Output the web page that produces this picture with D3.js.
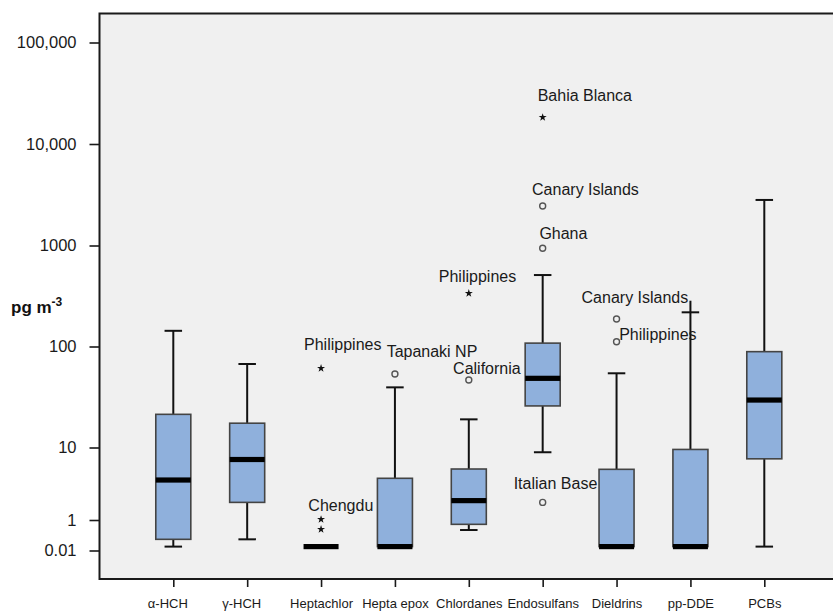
<!DOCTYPE html>
<html>
<head>
<meta charset="utf-8">
<script src="https://cdn.jsdelivr.net/npm/d3@7"></script>
<style>
  html, body { margin: 0; padding: 0; background: #ffffff; }
  svg { display: block; font-family: "Liberation Sans", Arial, Helvetica, sans-serif; }
</style>
</head>
<body>
<svg id="chart" width="833" height="611"></svg>
<script>
// ---- data (pg m-3) ----
const categories = ["α-HCH", "γ-HCH", "Heptachlor", "Hepta epox", "Chlordanes",
                    "Endosulfans", "Dieldrins", "pp-DDE", "PCBs"];
const whiskerLow  = [0.018, 0.054, 0.018, 0.018, 0.22, 8.6, 0.018, 0.018, 0.018];
const quartile1   = [0.054, 1.75, 0.018, 0.018, 0.52, 25.8, 0.018, 0.018, 6.98];
const medians     = [3.56, 6.83, 0.018, 0.018, 1.85, 48.4, 0.018, 0.018, 29.5];
const quartile3   = [21.3, 17.4, 0.018, 3.76, 5.05, 108, 5.0, 9.4, 88.9];
const whiskerHigh = [143, 67.1, 0.018, 39.4, 19.0, 510, 54.3, 218, 2810];
// the pp-DDE whisker line runs a little past its cap
const whiskerLineTop = [143, 67.1, 0.018, 39.4, 19.0, 510, 54.3, 284, 2810];

// flagged sites: "star" = extreme, "circle" = outlier
const outlierCategory = ["Heptachlor", "Heptachlor", "Heptachlor", "Hepta epox", "Chlordanes",
                         "Chlordanes", "Endosulfans", "Endosulfans", "Endosulfans", "Endosulfans",
                         "Dieldrins", "Dieldrins"];
const outlierValue = [60.8, 1.02, 0.245, 53.4, 336, 46.6, 18300, 2450, 938, 1.75, 187, 111.6];
const outlierKind  = ["star", "star", "star", "circle", "star", "circle", "star", "circle",
                      "circle", "circle", "circle", "circle"];
const outlierLabel = ["Philippines", "Chengdu", "", "Tapanaki NP", "Philippines", "California",
                      "Bahia Blanca", "Canary Islands", "Ghana", "Italian Base",
                      "Canary Islands", "Philippines"];

const tickValues = [0.01, 1, 10, 100, 1000, 10000, 100000];
const tickLabels = ["0.01", "1", "10", "100", "1000", "10,000", "100,000"];

// ---- layout ----
const svg = d3.select("#chart");
const frame = { left: 99.5, top: 13.5, bottom: 579 };
// screen position of each y tick (axis is compressed below 10)
const yStops = [550.5, 520, 447.5, 346.5, 245.5, 144, 42.5];

const y = d3.scaleLog().domain(tickValues).range(yStops);
const x = d3.scalePoint().domain(categories).range([173.3, 764.3]);
const step = x.step();
const boxW = step * 0.474;
const capW = boxW * 0.5;

// label placement relative to its point: [dx to text start, dy to text middle]
const labelNudge = [[-17, -24], [-12.7, -14.3], null, [-8.3, -22.3], [-30, -16.6], [-15.7, -11.7],
                    [-5, -22.3], [-10.6, -16], [-3.3, -15], [-29, -19], [-35, -21.7], [2.6, -6.7]];

// plot frame (open on the right, runs off the page)
svg.append("rect")
  .attr("x", frame.left).attr("y", frame.top)
  .attr("width", 900).attr("height", frame.bottom - frame.top)
  .attr("fill", "#f0f0f0").attr("stroke", "#1a1a1a").attr("stroke-width", 2);

// y axis
const yAxis = d3.axisLeft(y)
  .tickValues(tickValues)
  .tickFormat((d, i) => tickLabels[i])
  .tickSize(10).tickPadding(13);
const gy = svg.append("g").attr("transform", `translate(${frame.left},0)`).call(yAxis);
gy.select(".domain").remove();
gy.selectAll(".tick line").attr("stroke", "#1a1a1a").attr("stroke-width", 1.6);
gy.selectAll(".tick text").attr("font-size", 16.5).attr("fill", "#1a1a1a")
  .attr("font-family", "Liberation Sans, Arial, sans-serif");

// x axis
const xAxis = d3.axisBottom(x).tickSize(8).tickPadding(12);
const gx = svg.append("g").attr("transform", `translate(0,${frame.bottom})`).call(xAxis);
gx.select(".domain").remove();
gx.selectAll(".tick line").attr("stroke", "#1a1a1a").attr("stroke-width", 1.6);
gx.selectAll(".tick text").attr("font-size", 13).attr("fill", "#1a1a1a")
  .attr("font-family", "Liberation Sans, Arial, sans-serif")
  .attr("dx", (d, i) => i < 2 ? -6 : 0);

// y axis title
const yTitle = svg.append("text")
  .attr("x", 11).attr("y", 313)
  .attr("font-size", 17).attr("font-weight", "bold").attr("fill", "#111");
yTitle.append("tspan").text("pg m");
yTitle.append("tspan").attr("font-size", 12).attr("dy", -7).text("-3");

// boxes
const rows = categories.map((c, i) => ({
  c, lo: whiskerLow[i], q1: quartile1[i], med: medians[i], q3: quartile3[i],
  hi: whiskerHigh[i], top: whiskerLineTop[i]
}));

const g = svg.append("g");
rows.forEach(r => {
  const cx = x(r.c);
  // whiskers
  if (r.top > r.q3) {
    g.append("line").attr("x1", cx).attr("x2", cx).attr("y1", y(r.q3)).attr("y2", y(r.top))
      .attr("stroke", "#111").attr("stroke-width", 2);
    g.append("line").attr("x1", cx - capW / 2).attr("x2", cx + capW / 2)
      .attr("y1", y(r.hi)).attr("y2", y(r.hi))
      .attr("stroke", "#111").attr("stroke-width", 2);
  }
  if (r.lo < r.q1) {
    g.append("line").attr("x1", cx).attr("x2", cx).attr("y1", y(r.q1)).attr("y2", y(r.lo))
      .attr("stroke", "#111").attr("stroke-width", 2);
    g.append("line").attr("x1", cx - capW / 2).attr("x2", cx + capW / 2)
      .attr("y1", y(r.lo)).attr("y2", y(r.lo))
      .attr("stroke", "#111").attr("stroke-width", 2);
  }
  // box
  if (r.q3 > r.q1) {
    g.append("rect")
      .attr("x", cx - boxW / 2).attr("y", y(r.q3))
      .attr("width", boxW).attr("height", y(r.q1) - y(r.q3))
      .attr("fill", "#8fb0dc").attr("stroke", "#444").attr("stroke-width", 1.6);
  }
  // median
  g.append("rect")
    .attr("x", cx - boxW / 2).attr("y", y(r.med) - 2.6)
    .attr("width", boxW).attr("height", 5.2)
    .attr("fill", "#000");
});

// outliers and extremes
const pts = outlierValue.map((v, i) => ({
  c: outlierCategory[i], v, kind: outlierKind[i], label: outlierLabel[i], nudge: labelNudge[i]
}));

const star = d3.symbol().type(d3.symbolStar).size(20);
pts.forEach(p => {
  const px = x(p.c), py = y(p.v);
  if (p.kind === "star") {
    g.append("path").attr("d", star()).attr("transform", `translate(${px},${py})`)
      .attr("fill", "#111");
  } else {
    g.append("circle").attr("cx", px).attr("cy", py).attr("r", 3)
      .attr("fill", "none").attr("stroke", "#555").attr("stroke-width", 1.4);
  }
  if (p.label) {
    g.append("text")
      .attr("x", px + p.nudge[0]).attr("y", py + p.nudge[1])
      .attr("dominant-baseline", "central")
      .attr("font-size", 16).attr("fill", "#1a1a1a")
      .text(p.label);
  }
});
</script>
</body>
</html>
